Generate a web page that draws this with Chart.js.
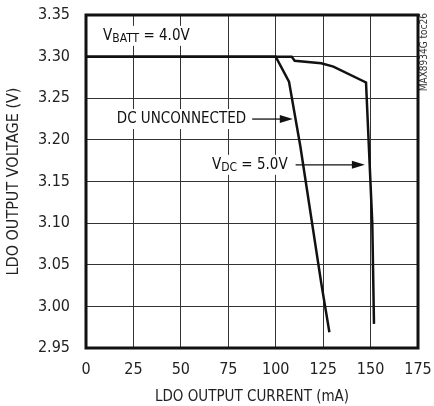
<!DOCTYPE html>
<html><head><meta charset="utf-8">
<script src="https://cdn.jsdelivr.net/npm/chart.js@4"></script>
<style>html,body{margin:0;padding:0;background:#fff}#w{width:434px;height:406px;position:relative}</style>
</head><body><div id="w"><canvas id="c" width="434" height="406"></canvas></div>
<script>
const xTicks = [0, 25, 50, 75, 100, 125, 150, 175];
const yTicks = [2.95, 3.00, 3.05, 3.10, 3.15, 3.20, 3.25, 3.30, 3.35];
const dcUnconnectedI = [0, 100, 107, 113, 124, 128.3];
const dcUnconnectedV = [3.300, 3.300, 3.270, 3.192, 3.028, 2.969];
const vdc5I = [0, 108.4, 110, 124, 130.4, 147.6, 150.9, 151.8];
const vdc5V = [3.300, 3.300, 3.295, 3.292, 3.288, 3.269, 3.100, 2.979];
const FONT = "'DejaVu Sans Condensed', 'Liberation Sans Narrow', 'Liberation Sans', Arial, sans-serif";

const pts = (xs, ys) => xs.map((x, i) => ({x, y: ys[i]}));

function label(ctx, px, py, parts) {
  // parts: [text, isSub]
  let w = 0;
  const widths = parts.map(([t, sub]) => { ctx.font = (sub ? '12px ' : '15px ') + FONT; const m = ctx.measureText(t).width; w += m; return m; });
  ctx.fillStyle = '#fff';
  ctx.fillRect(px - 3, py - 10, w + 6, 20);
  ctx.fillStyle = '#111';
  let cx = px;
  parts.forEach(([t, sub], i) => {
    ctx.font = (sub ? '12px ' : '15px ') + FONT;
    ctx.fillText(t, cx, py + (sub ? 3 : 0));
    cx += widths[i];
  });
  return px + w;
}

const annot = {
  id: 'annot',
  afterDatasetsDraw(chart) {
    const {ctx, scales: {x, y}} = chart;
    ctx.save();
    ctx.strokeStyle = '#111';
    ctx.textBaseline = 'middle'; ctx.textAlign = 'left';
    label(ctx, x.getPixelForValue(9), y.getPixelForValue(3.325), [['V', 0], ['BATT', 1], [' = 4.0V', 0]]);
    let e = label(ctx, x.getPixelForValue(16.2), y.getPixelForValue(3.225), [['DC UNCONNECTED', 0]]);
    arrow(ctx, e + 6, x.getPixelForValue(109), y.getPixelForValue(3.225));
    e = label(ctx, x.getPixelForValue(66.4), y.getPixelForValue(3.170), [['V', 0], ['DC', 1], [' = 5.0V', 0]]);
    arrow(ctx, e + 8, x.getPixelForValue(147), y.getPixelForValue(3.170));
    ctx.restore();
  },
  afterDraw(chart) {
    const {ctx, chartArea: a} = chart;
    ctx.save();
    ctx.font = '10px ' + FONT;
    ctx.fillStyle = '#333';
    ctx.textBaseline = 'middle';
    ctx.translate(a.right + 6, a.top - 2);
    ctx.rotate(-Math.PI / 2);
    ctx.textAlign = 'right';
    ctx.fillText('MAX8934G toc26', 0, 0);
    ctx.restore();
    ctx.save();
    ctx.strokeStyle = '#111'; ctx.lineWidth = 3;
    ctx.strokeRect(a.left, a.top, a.right - a.left, a.bottom - a.top);
    ctx.restore();
  }
};
function arrow(ctx, x1, x2, y) {
  ctx.fillStyle = '#111';
  ctx.lineWidth = 1.3;
  ctx.beginPath(); ctx.moveTo(x1, y); ctx.lineTo(x2 - 10, y); ctx.stroke();
  ctx.beginPath(); ctx.moveTo(x2, y); ctx.lineTo(x2 - 13, y - 4); ctx.lineTo(x2 - 13, y + 4); ctx.closePath(); ctx.fill();
}

new Chart(document.getElementById('c'), {
  type: 'line',
  data: {
    datasets: [
      {data: pts(dcUnconnectedI, dcUnconnectedV), borderColor: '#111', borderWidth: 2.5, pointRadius: 0, tension: 0},
      {data: pts(vdc5I, vdc5V), borderColor: '#111', borderWidth: 2.5, pointRadius: 0, tension: 0}
    ]
  },
  options: {
    responsive: false, animation: false,
    layout: {padding: {top: 15, right: 16, left: 0, bottom: 0}},
    plugins: {legend: {display: false}, tooltip: {enabled: false}},
    scales: {
      x: {
        type: 'linear', min: 0, max: 175,
        afterBuildTicks: s => { s.ticks = xTicks.map(v => ({value: v})); },
        afterFit: s => { s.height = 58; s.paddingLeft = 0; s.paddingRight = 0; },
        grid: {color: '#333', lineWidth: 1, drawTicks: false},
        border: {display: false},
        ticks: {color: '#222', font: {family: FONT, size: 16}, padding: 12, maxRotation: 0, callback: v => String(v)},
        title: {display: true, text: 'LDO OUTPUT CURRENT (mA)', color: '#222', font: {family: FONT, size: 15}, padding: {top: 2, bottom: 0}}
      },
      y: {
        type: 'linear', min: 2.95, max: 3.35,
        afterBuildTicks: s => { s.ticks = yTicks.map(v => ({value: v})); },
        afterFit: s => { s.width = 86; s.paddingTop = 0; s.paddingBottom = 0; },
        grid: {color: '#333', lineWidth: 1, drawTicks: false},
        border: {display: false},
        ticks: {color: '#222', font: {family: FONT, size: 16}, padding: 16, callback: v => v.toFixed(2)},
        title: {display: true, text: 'LDO OUTPUT VOLTAGE (V)', color: '#222', font: {family: FONT, size: 16}, padding: {bottom: 0}}
      }
    }
  },
  plugins: [annot]
});
</script></body></html>
